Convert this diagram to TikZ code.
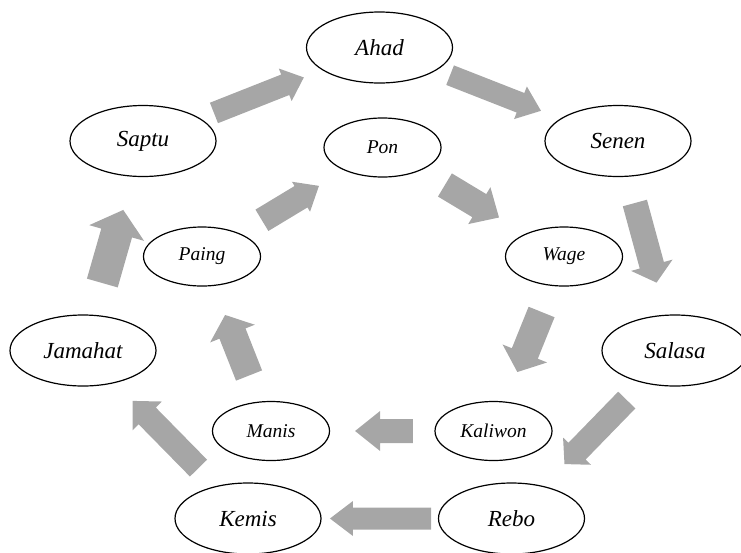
\documentclass[tikz,border=0pt]{standalone}
\usepackage{fontspec}
\setmainfont{Liberation Serif}
\usetikzlibrary{shapes.geometric,calc}
\definecolor{arrowgray}{RGB}{166,166,166}
% block arrow from coordinate #1 (tail) to #2 (tip):
% #3 half body width, #4 half head width, #5 head length
\newcommand\blockarrow[5]{%
  \coordinate (hb) at ($(#2)!#5!(#1)$);
  \fill[flow] ($(#1)!#3!90:(#2)$) -- ($(hb)!#3!90:(#2)$) -- ($(hb)!#4!90:(#2)$)
    -- (#2) -- ($(hb)!#4!-90:(#2)$) -- ($(hb)!#3!-90:(#2)$) -- ($(#1)!#3!-90:(#2)$) -- cycle;
}
\begin{document}
\begin{tikzpicture}[x=1pt,y=-1pt,
  day/.style={draw=black, line width=1.2pt, ellipse, minimum width=146pt, minimum height=71pt, inner sep=0pt,
    font=\fontsize{23}{27}\selectfont\itshape},
  pasar/.style={day, minimum width=117pt, minimum height=59pt,
    font=\fontsize{19.5}{23}\selectfont\itshape},
  flow/.style={fill=arrowgray, draw=none}
]
\clip (0,0) rectangle (741,552);
\useasboundingbox (0,0) rectangle (741,552);

% outer ring
\node[day] (ahad)    at (379.5,47.5)  {Ahad};
\node[day] (senen)   at (618,141)     {Senen};
\node[day] (salasa)  at (675,350.5)   {Salasa};
\node[day] (rebo)    at (511.5,518.5) {Rebo};
\node[day] (kemis)   at (248,518.5)   {Kemis};
\node[day] (jamahat) at (83,350.5)    {Jamahat};
\node[day] (saptu)   at (143,141)     {Saptu};

% inner ring
\node[pasar] (pon)     at (382.5,147.5) {Pon};
\node[pasar] (wage)    at (564,256.5)   {Wage};
\node[pasar] (kaliwon) at (493.5,431)   {Kaliwon};
\node[pasar] (manis)   at (271,431)     {Manis};
\node[pasar] (paing)   at (202,256.5)   {Paing};

% arrow end points, on the lines between node centres
\coordinate (o1s) at ($(saptu)!0.30!(ahad)$);     \coordinate (o1e) at ($(saptu)!0.68!(ahad)$);
\coordinate (o2s) at ($(ahad)!0.296!(senen)$);    \coordinate (o2e) at ($(ahad)!0.677!(senen)$);
\coordinate (o3s) at ($(senen)!0.296!(salasa)$);  \coordinate (o3e) at ($(senen)!0.676!(salasa)$);
\coordinate (o4s) at ($(salasa)!0.295!(rebo)$);   \coordinate (o4e) at ($(salasa)!0.676!(rebo)$);
\coordinate (o5s) at ($(rebo)!0.305!(kemis)$);    \coordinate (o5e) at ($(rebo)!0.689!(kemis)$);
\coordinate (o6s) at ($(kemis)!0.30!(jamahat)$);  \coordinate (o6e) at ($(kemis)!0.70!(jamahat)$);
\coordinate (o7s) at ($(jamahat)!0.322!(saptu)$); \coordinate (o7e) at ($(jamahat)!0.671!(saptu)$);
\coordinate (i1s) at ($(paing)!0.332!(pon)$);     \coordinate (i1e) at ($(paing)!0.648!(pon)$);
\coordinate (i2s) at ($(pon)!0.344!(wage)$);      \coordinate (i2e) at ($(pon)!0.642!(wage)$);
\coordinate (i3s) at ($(wage)!0.318!(kaliwon)$);  \coordinate (i3e) at ($(wage)!0.662!(kaliwon)$);
\coordinate (i4s) at ($(kaliwon)!0.362!(manis)$); \coordinate (i4e) at ($(kaliwon)!0.622!(manis)$);
\coordinate (i5s) at ($(manis)!0.318!(paing)$);   \coordinate (i5e) at ($(manis)!0.665!(paing)$);

% outer arrows
\blockarrow{o1s}{o1e}{11pt}{17.5pt}{20pt}
\blockarrow{o2s}{o2e}{10.5pt}{17.5pt}{22pt}
\blockarrow{o3s}{o3e}{12.5pt}{21.5pt}{18pt}
\blockarrow{o4s}{o4e}{12pt}{19.5pt}{18pt}
\blockarrow{o5s}{o5e}{11pt}{17.5pt}{23pt}
\blockarrow{o6s}{o6e}{12pt}{20.5pt}{21pt}
\blockarrow{o7s}{o7e}{16pt}{28.5pt}{24pt}

% inner arrows
\blockarrow{i1s}{i1e}{12.5pt}{17.5pt}{21pt}
\blockarrow{i2s}{i2e}{13.5pt}{21.5pt}{23pt}
\blockarrow{i3s}{i3e}{14pt}{24pt}{20pt}
\blockarrow{i4s}{i4e}{12pt}{20pt}{25pt}
\blockarrow{i5s}{i5e}{14pt}{24pt}{20pt}
\end{tikzpicture}
\end{document}
